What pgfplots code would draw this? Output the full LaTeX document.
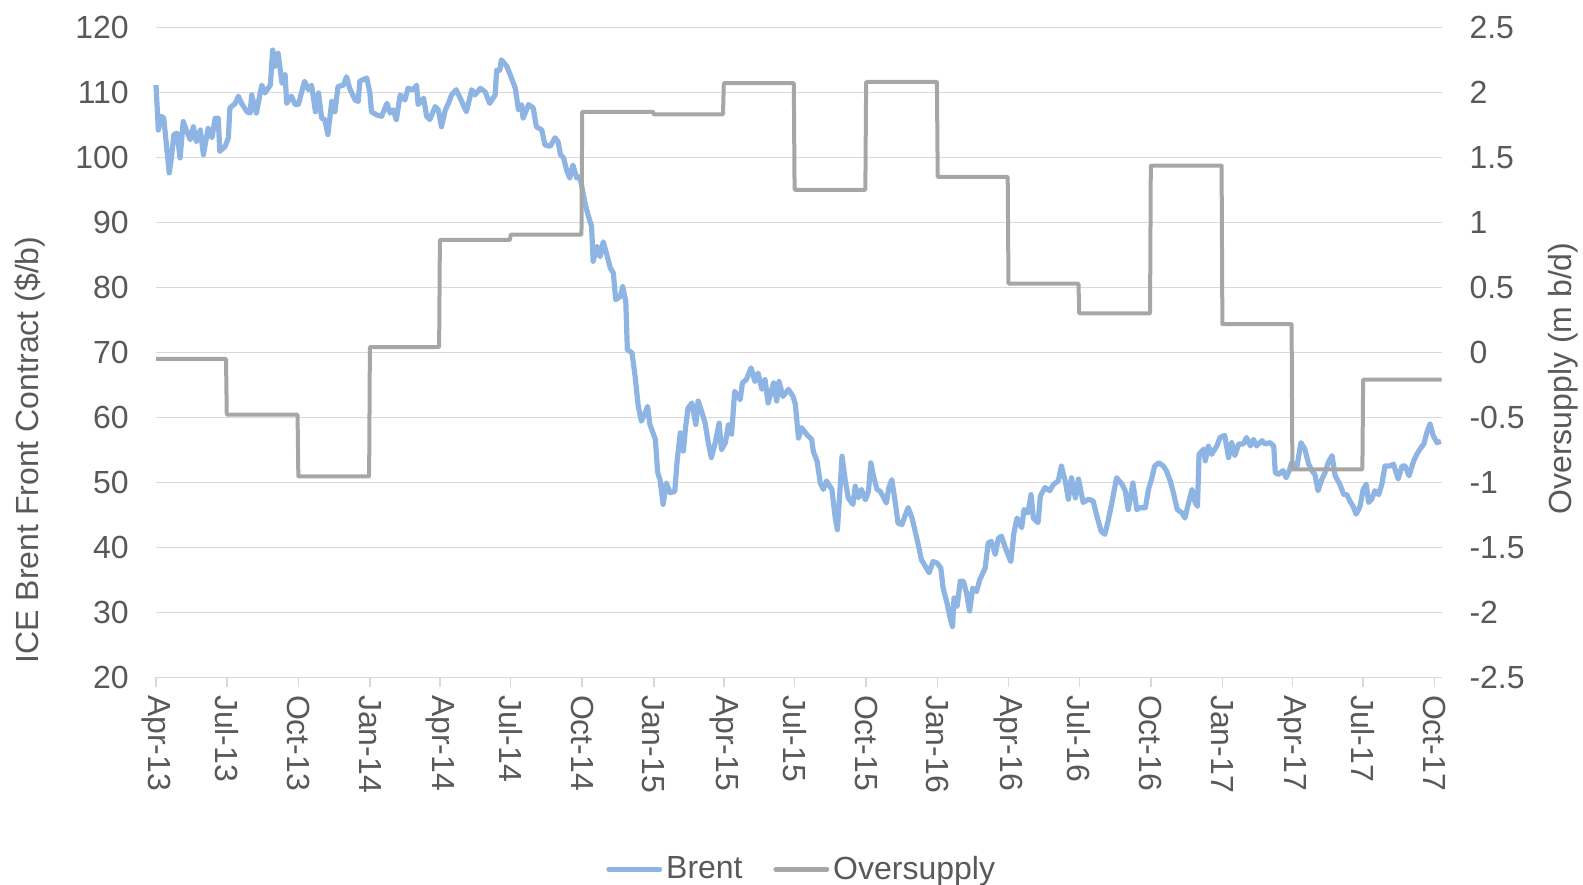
\documentclass[border=0pt]{standalone}
\usepackage{fontspec}
\setmainfont{Liberation Sans}
\usepackage{pgfplots}
\usepackage{pgfplotstable}
\pgfplotsset{compat=1.18}
\definecolor{txt}{HTML}{595959}
\definecolor{brentc}{HTML}{8EB4E3}
\definecolor{oversc}{HTML}{A6A6A6}
\definecolor{gridc}{HTML}{D9D9D9}
\newcommand\fs{\fontsize{16}{19.2}\selectfont}

% x = days since 1 Apr 2013
\pgfplotstableread{
day val
0 111.1
3 104.2
7 106.3
10 106
17 97.6
20 100.1
23 103.5
27 103.7
31 99.9
35 105.5
39 104.2
44 102.7
48 104.7
52 102.4
57 104.2
61 100.4
67 104.5
72 103
76 106
80 106
82 100.9
89 101.7
93 103
95 107.6
102 108.3
106 109.4
110 108.3
117 107
121 106.8
123 109.6
129 106.8
136 111.1
140 109.9
147 111.1
150 116.5
153 114
157 116
162 111.4
166 112.7
168 108.3
174 109.4
179 108.1
183 108.1
191 111.7
196 110.4
200 111.1
205 107
209 109.9
213 106
217 105.8
221 103.5
226 108.6
230 107
234 110.9
241 111.1
245 112.4
249 110.6
256 108.8
260 108.6
262 111.7
271 112.2
275 109.9
277 107
284 106.5
290 106.3
297 108.3
301 106.8
305 107.3
309 105.8
314 109.6
320 108.8
324 110.6
331 110.4
335 111.1
337 108.1
344 109.1
348 106.3
352 105.8
359 107.8
363 107.3
367 104.7
372 107.3
376 108.3
380 109.6
386 110.4
393 108.6
399 107
406 110.4
410 109.6
417 110.6
423 110.1
429 108.3
436 109.6
438 113.4
442 113.4
444 115
451 114
457 112.2
462 110.6
466 107.3
470 108.1
472 106
479 108.1
485 107.6
489 104.7
496 104.2
500 101.9
507 101.7
513 103
517 102.4
520 100.4
524 99.9
528 98
532 96.8
536 98.8
541 96.8
545 97
552 92.7
556 90.9
560 89.4
562 84
567 86.3
571 84.7
575 87
579 85.3
584 83
588 82.2
591 78.1
597 78.6
600 80.1
604 77.8
606 70.4
612 69.9
616 66.3
620 61.7
624 59.4
629 60.7
632 61.7
635 58.9
642 56.6
645 51.5
648 50.4
652 46.6
656 49.9
661 48.4
667 48.6
670 53.3
674 57.6
678 54.8
681 58.6
684 61.4
689 62.2
694 58.9
697 62.5
702 60.7
706 59.1
710 56.1
714 53.8
719 56.1
724 59.1
727 55
732 56.1
736 58.9
740 57.4
744 64
751 62.7
754 65.3
759 65.8
765 67.6
770 65.5
774 66.8
779 64.3
783 65.8
787 62.2
794 65.3
798 62.5
801 65.5
806 63.2
813 64.3
819 63.2
822 62
826 56.8
830 58.4
837 57.3
843 56.6
845 54.8
850 53.2
854 49.9
858 48.9
862 50.2
869 48.9
873 44.8
876 42.7
879 48.1
882 54
886 50.4
890 47.6
896 46.6
899 49.4
903 47.6
907 48.9
912 47.3
916 48.6
919 53
922 51.2
927 48.9
931 48.6
935 47.8
939 46.8
942 49.1
946 50.4
950 47.3
954 43.7
959 43.5
963 44.8
967 46.1
972 44.5
976 42.5
980 40.4
984 38.1
989 37.1
994 36.1
999 37.8
1004 37.6
1009 36.8
1012 33.7
1017 31.4
1021 29.1
1024 27.8
1026 32.2
1030 30.9
1034 34.8
1038 34.8
1042 33
1046 30.2
1050 33.7
1055 33.2
1059 35
1066 36.8
1070 40.7
1074 40.9
1079 38.9
1083 41.4
1087 41.7
1092 39.9
1099 37.8
1103 42.2
1107 44.5
1113 43
1116 45.8
1121 45.3
1125 48.1
1128 44.5
1134 43.8
1137 47.9
1143 49.2
1149 48.7
1154 49.7
1160 50.2
1164 52.5
1169 50.2
1173 47.4
1177 50.7
1182 47.6
1186 50.5
1192 46.9
1199 47.4
1205 47.1
1209 45.1
1215 42.5
1220 42
1224 44
1229 46.9
1235 50.7
1242 49.7
1246 48.7
1250 45.8
1256 49.9
1261 45.8
1265 46.1
1272 46.1
1276 48.9
1280 50.5
1284 52.5
1289 53
1295 52.5
1299 51.8
1304 50.2
1308 48.4
1313 45.8
1319 45.3
1323 44.5
1327 46.6
1332 48.9
1336 46.9
1339 46.3
1341 54.3
1347 55.1
1349 53.3
1353 55.6
1357 54.3
1364 55.6
1368 56.9
1374 57.2
1379 53.8
1383 56.1
1387 54.1
1392 55.9
1398 55.9
1402 56.9
1407 55.6
1411 56.6
1415 55.6
1422 56.4
1426 55.9
1432 56.1
1437 55.6
1439 51.5
1443 51.2
1449 51.8
1453 50.7
1457 51.8
1460 53
1467 52.5
1472 56.1
1477 55.1
1482 52.8
1486 51.8
1490 51.2
1494 48.7
1499 50.5
1503 51.5
1507 53
1512 54.1
1516 51
1522 49.7
1527 48.1
1531 48.1
1535 47.1
1539 46.3
1543 45.1
1548 46.3
1552 48.9
1556 49.7
1559 46.9
1563 47.4
1567 48.7
1572 48.1
1576 49.7
1580 52.5
1586 52.5
1591 52.8
1597 50.5
1602 52.5
1606 52.5
1611 51
1617 53.3
1621 54.3
1625 55.1
1630 55.9
1634 57.7
1638 59
1642 57.2
1647 56.1
1652 56.3
}\brent

\pgfplotstableread{
day val
0 -0.05
90 -0.05
91 -0.48
182 -0.48
183 -0.955
274 -0.955
275 0.04
364 0.04
365 0.864
455 0.864
456 0.905
547 0.905
548 1.85
639 1.85
640 1.83
729 1.83
730 2.07
820 2.07
821 1.25
912 1.25
913 2.08
1004 2.08
1005 1.35
1095 1.35
1096 0.528
1186 0.528
1187 0.30
1278 0.30
1279 1.436
1370 1.436
1371 0.217
1460 0.217
1461 -0.90
1551 -0.90
1552 -0.21
1653 -0.21
}\overs

\begin{document}
\begin{tikzpicture}
\begin{axis}[
  at={(78pt,103.35pt)}, anchor=south west,
  scale only axis, width=642.85pt, height=325pt,
  xmin=0, xmax=1653, ymin=20, ymax=120,
  clip=false,
  axis x line*=bottom, axis y line*=left,
  x axis line style={draw=gridc, line width=0.75pt, -},
  y axis line style={draw=none},
  xtick={0,91,183,275,365,456,548,640,730,821,913,1005,1096,1187,1279,1371,1461,1552,1644},
  xticklabels={Apr-13,Jul-13,Oct-13,Jan-14,Apr-14,Jul-14,Oct-14,Jan-15,Apr-15,Jul-15,Oct-15,Jan-16,Apr-16,Jul-16,Oct-16,Jan-17,Apr-17,Jul-17,Oct-17},
  ytick={20,30,40,50,60,70,80,90,100,110,120},
  yticklabels={20,30,40,50,60,70,80,90,100,110,120},
  ymajorgrids, grid style={draw=gridc, line width=0.75pt},
  tick align=outside, major tick length=5pt,
  xtick style={draw=gridc, line width=0.75pt},
  ytick style={draw=none},
  tick label style={font=\fs, text=txt},
  xticklabel style={yshift=-3.65pt, rotate=-90, anchor=west, inner sep=0pt},
  yticklabel style={anchor=east, inner sep=0pt, xshift=-8.4pt},
  ylabel={ICE Brent Front Contract (\$/b)},
  ylabel style={font=\fs, text=txt, at={(axis description cs:-0.0978,0.3497)}, anchor=center},
]
\addplot[brentc, line width=2.6pt, line join=round] table[x=day, y=val]{\brent};
\end{axis}
\begin{axis}[
  at={(78pt,103.35pt)}, anchor=south west,
  scale only axis, width=642.85pt, height=325pt,
  xmin=0, xmax=1653, ymin=-2.5, ymax=2.5,
  clip=false,
  axis y line*=right, axis x line=none,
  y axis line style={draw=none},
  ytick={-2.5,-2,-1.5,-1,-0.5,0,0.5,1,1.5,2,2.5},
  yticklabels={-2.5,-2,-1.5,-1,-0.5,0,0.5,1,1.5,2,2.5},
  tick align=outside, major tick length=5pt,
  ytick style={draw=none},
  yticklabel style={font=\fs, text=txt, anchor=west, inner sep=0pt, xshift=8.7pt},
  ylabel={Oversupply (m b/d)},
  ylabel style={font=\fs, text=txt, at={(axis description cs:1.0942,0.4595)}, anchor=center},
  legend columns=2,
  legend style={at={(0.5030,-0.2954)}, anchor=center, draw=none, fill=none, font=\fs, text=txt,
    /tikz/every even column/.append style={column sep=13.4pt}},
  legend image code/.code={\draw[#1, line width=2.2pt, line cap=round] (0pt,0pt) -- (25.7pt,0pt);},
]
\addlegendimage{brentc}
\addlegendentry{Brent}
\addplot[oversc, line width=2pt, line join=round] table[x=day, y=val]{\overs};
\addlegendentry{Oversupply}
\end{axis}
\pgfresetboundingbox
\useasboundingbox (0,0) rectangle (791.5pt,442pt);
\end{tikzpicture}
\end{document}
